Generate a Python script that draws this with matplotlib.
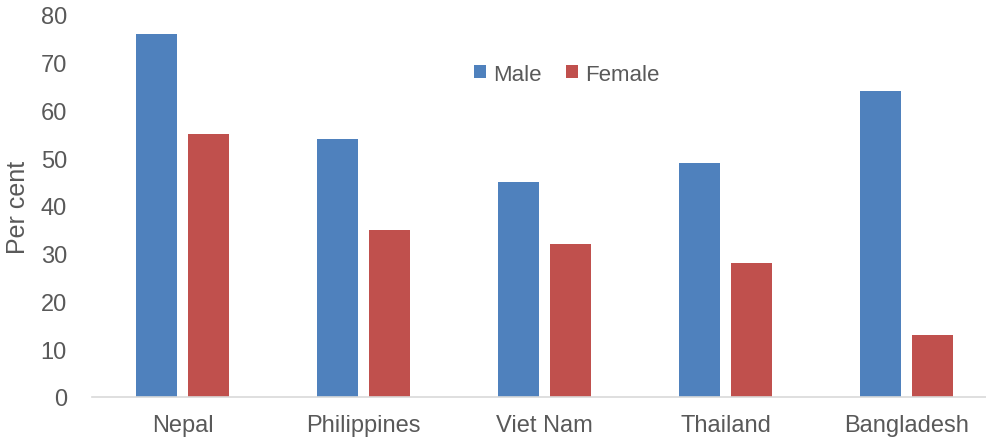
import matplotlib.pyplot as plt
import numpy as np

countries = ['Nepal', 'Philippines', 'Viet Nam', 'Thailand', 'Bangladesh']
male = [76, 54, 45, 49, 64]
female = [55, 35, 32, 28, 13]

plt.rcParams['font.family'] = ['Liberation Sans', 'DejaVu Sans']
txt = '#595959'

fig = plt.figure(figsize=(9.86, 4.39), dpi=100)
ax = fig.add_axes([92 / 986, 41 / 439, 905 / 986, 382 / 439])

x = np.arange(len(countries))
w = 0.222
ax.bar(x - 0.144, male, w, color='#4F81BD', label='Male')
ax.bar(x + 0.144, female, w, color='#C0504D', label='Female')

ax.set_xlim(-0.5, len(countries) - 0.5)
ax.set_ylim(0, 80)
ax.set_yticks(range(0, 81, 10))
ax.set_xticks(x)
ax.set_xticklabels(countries)
ax.tick_params(axis='both', length=0, labelsize=17, labelcolor=txt)
ax.tick_params(axis='x', pad=12)
ax.tick_params(axis='y', pad=18)
ax.set_ylabel('Per cent', fontsize=18, color=txt, labelpad=8)

for s in ['top', 'right', 'left']:
    ax.spines[s].set_visible(False)
ax.spines['bottom'].set_color('#d9d9d9')
ax.spines['bottom'].set_linewidth(1.2)

ax.legend(loc='upper left', bbox_to_anchor=(0.40, 0.925), ncol=2, frameon=False,
          fontsize=16, labelcolor=txt, handlelength=0.55, handleheight=0.55,
          handletextpad=0.3, columnspacing=1.1)

fig.savefig('out.png', dpi=100)
